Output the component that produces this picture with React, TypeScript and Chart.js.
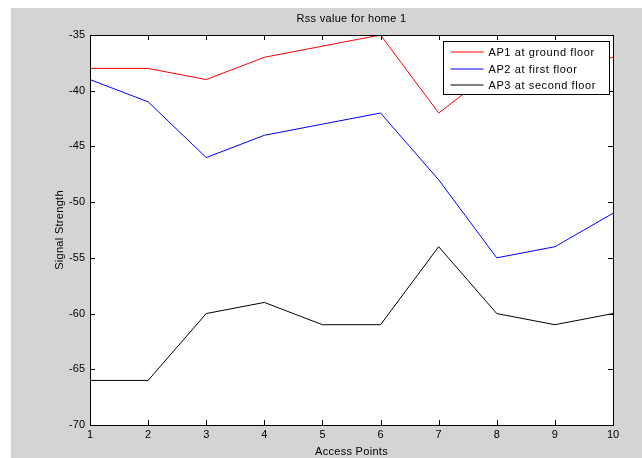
import React, { useEffect, useRef } from "react";
import { Chart, registerables } from "chart.js";

Chart.register(...registerables);

const accessPoints = [1, 2, 3, 4, 5, 6, 7, 8, 9, 10];
const ap1Ground = [-38, -38, -39, -37, -36, -35, -42, -38, -38, -37];
const ap2First = [-39, -41, -46, -44, -43, -42, -48, -55, -54, -51];
const ap3Second = [-66, -66, -60, -59, -61, -61, -54, -60, -61, -60];
const seriesLabels = ["AP1 at ground floor", "AP2 at first floor", "AP3 at second floor"];
const seriesColors = ["#ff0000", "#0000ff", "#000000"];
const titleText = "Rss value for home 1";
const xTitle = "Access Points";
const yTitle = "Signal Strength";

const FONT = "Arial, 'Liberation Sans', sans-serif";

// Boxed axes with inward tick marks, an in-plot legend and the text labels
const matlabFrame = {
  id: "matlabFrame",
  beforeDraw(chart: any) {
    const { ctx, chartArea: a } = chart;
    ctx.save();
    ctx.fillStyle = "#ffffff";
    ctx.fillRect(a.left, a.top, a.right - a.left, a.bottom - a.top);
    ctx.restore();
  },
  afterDatasetsDraw(chart: any) {
    const { ctx, chartArea: a } = chart;
    const xs = chart.scales.x;
    const ys = chart.scales.y;
    const tl = 5;
    ctx.save();
    ctx.strokeStyle = "#000000";
    ctx.lineWidth = 1;
    ctx.beginPath();
    xs.ticks.forEach((t: any) => {
      const px = Math.round(xs.getPixelForValue(t.value)) + 0.5;
      ctx.moveTo(px, a.bottom);
      ctx.lineTo(px, a.bottom - tl);
      ctx.moveTo(px, a.top);
      ctx.lineTo(px, a.top + tl);
    });
    ys.ticks.forEach((t: any) => {
      const py = Math.round(ys.getPixelForValue(t.value)) + 0.5;
      ctx.moveTo(a.left, py);
      ctx.lineTo(a.left + tl, py);
      ctx.moveTo(a.right, py);
      ctx.lineTo(a.right - tl, py);
    });
    ctx.stroke();
    ctx.strokeRect(
      Math.round(a.left) + 0.5,
      Math.round(a.top) + 0.5,
      Math.round(a.right - a.left),
      Math.round(a.bottom - a.top)
    );

    // legend box
    const lw = 166;
    const lh = 53;
    const lx = Math.round(a.right) - 4 - lw + 0.5;
    const ly = Math.round(a.top) + 6 + 0.5;
    ctx.fillStyle = "#ffffff";
    ctx.fillRect(lx, ly, lw, lh);
    ctx.strokeStyle = "#000000";
    ctx.strokeRect(lx, ly, lw, lh);
    ctx.font = `11px ${FONT}`;
    (ctx as any).letterSpacing = "0.6px";
    ctx.textBaseline = "middle";
    ctx.textAlign = "left";
    seriesLabels.forEach((label, i) => {
      const ry = Math.round(ly + 10.5 + i * 16.5);
      ctx.beginPath();
      ctx.strokeStyle = seriesColors[i];
      ctx.moveTo(lx + 7, ry);
      ctx.lineTo(lx + 40, ry);
      ctx.stroke();
      ctx.fillStyle = "#000000";
      ctx.fillText(label, lx + 45, ry + 0.5);
    });

    // title and axis titles
    (ctx as any).letterSpacing = "0.3px";
    ctx.fillStyle = "#000000";
    ctx.textAlign = "center";
    ctx.textBaseline = "middle";
    const cx = (a.left + a.right) / 2;
    ctx.fillText(titleText, cx, a.top - 16);
    ctx.fillText(xTitle, cx, a.bottom + 27);
    ctx.translate(a.left - 30, (a.top + a.bottom) / 2);
    ctx.rotate(-Math.PI / 2);
    ctx.fillText(yTitle, 0, 0);
    ctx.restore();
  },
};

export default function App() {
  const canvasRef = useRef<HTMLCanvasElement | null>(null);

  useEffect(() => {
    const canvas = canvasRef.current;
    if (!canvas) return;
    const series = [ap1Ground, ap2First, ap3Second];
    const chart = new Chart(canvas, {
      type: "line",
      data: {
        datasets: series.map((vals, i) => ({
          label: seriesLabels[i],
          data: accessPoints.map((x, j) => ({ x, y: vals[j] })),
          borderColor: seriesColors[i],
          backgroundColor: seriesColors[i],
          borderWidth: 1,
          pointRadius: 0,
          tension: 0,
          fill: false,
        })),
      },
      options: {
        responsive: false,
        animation: false,
        layout: { padding: { top: 27, right: 29, left: 0, bottom: 0 } },
        plugins: {
          legend: { display: false },
          title: { display: false },
          tooltip: { enabled: false },
        },
        scales: {
          x: {
            type: "linear",
            min: 1,
            max: 10,
            grid: { display: false, drawTicks: false, tickLength: 0 },
            border: { display: false },
            ticks: {
              stepSize: 1,
              padding: 3,
              color: "#000000",
              font: { family: FONT, size: 11 },
              maxRotation: 0,
            },
            afterFit(scale: any) {
              scale.height = 33;
            },
          },
          y: {
            type: "linear",
            min: -70,
            max: -35,
            grid: { display: false, drawTicks: false, tickLength: 0 },
            border: { display: false },
            ticks: {
              stepSize: 5,
              padding: 5,
              color: "#000000",
              font: { family: FONT, size: 11 },
            },
            afterFit(scale: any) {
              scale.width = 79;
            },
          },
        },
      },
      plugins: [matlabFrame],
    });
    return () => chart.destroy();
  }, []);

  return (
    <div
      style={{
        position: "absolute",
        left: 11,
        top: 8,
        width: 631,
        height: 450,
        background: "#d4d4d4",
      }}
    >
      <canvas ref={canvasRef} width={631} height={450} style={{ display: "block" }} />
    </div>
  );
}
